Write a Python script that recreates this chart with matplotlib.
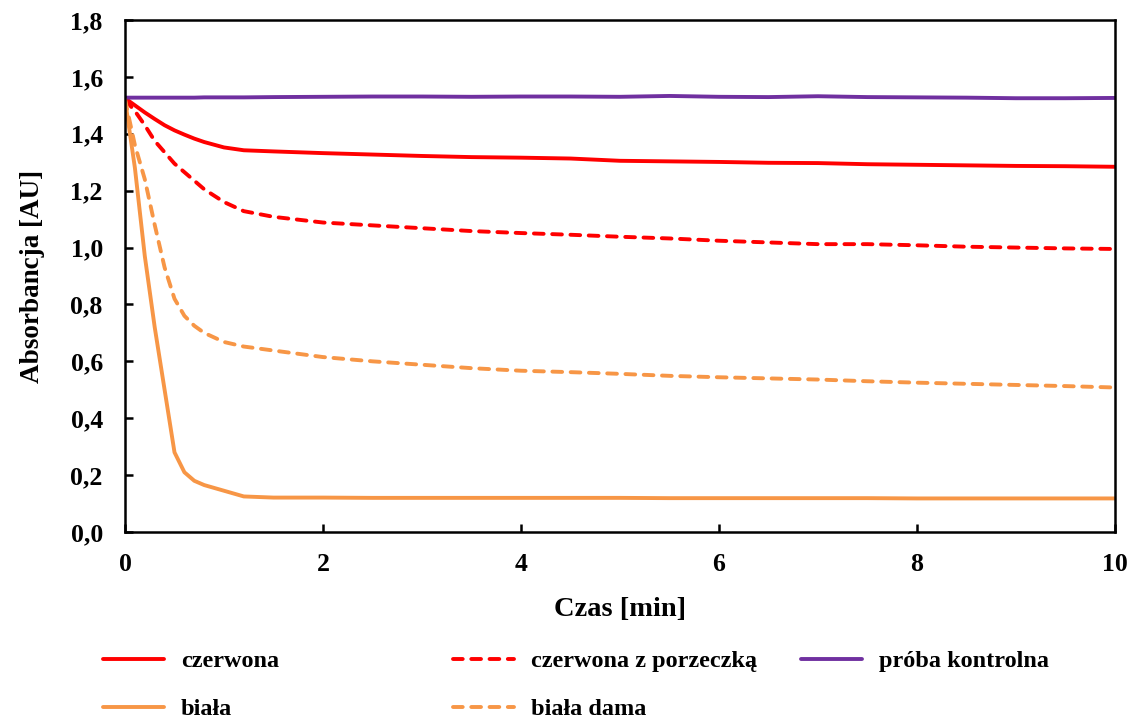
import matplotlib
matplotlib.use("Agg")
import matplotlib.pyplot as plt
from matplotlib.ticker import FuncFormatter

plt.rcParams['font.family'] = ['Liberation Serif', 'DejaVu Serif']
plt.rcParams['font.weight'] = 'bold'

time_min = [0, 0.1, 0.2, 0.3, 0.4, 0.5, 0.6, 0.7, 0.8, 1.0, 1.2, 1.5, 2, 2.5, 3, 3.5, 4,
            4.5, 5, 5.5, 6, 6.5, 7, 7.5, 8, 8.5, 9, 9.5, 10]

czerwona = [1.525, 1.50, 1.475, 1.452, 1.43, 1.412, 1.397, 1.383, 1.371, 1.352, 1.342, 1.338,
            1.332, 1.327, 1.322, 1.318, 1.316, 1.313, 1.305, 1.303, 1.301, 1.298, 1.297, 1.293,
            1.291, 1.289, 1.287, 1.286, 1.284]
czerwona_porzeczka = [1.52, 1.48, 1.43, 1.375, 1.335, 1.295, 1.265, 1.235, 1.205, 1.16, 1.128,
                      1.108, 1.088, 1.078, 1.068, 1.058, 1.051, 1.045, 1.038, 1.032, 1.024, 1.018,
                      1.012, 1.012, 1.008, 1.003, 1.0, 0.997, 0.995]
proba_kontrolna = [1.527, 1.527, 1.527, 1.527, 1.527, 1.527, 1.527, 1.527, 1.528, 1.528, 1.528,
                   1.529, 1.530, 1.531, 1.531, 1.530, 1.531, 1.531, 1.530, 1.533, 1.530, 1.529,
                   1.532, 1.529, 1.528, 1.527, 1.525, 1.525, 1.526]
biala = [1.52, 1.28, 0.97, 0.72, 0.50, 0.28, 0.21, 0.18, 0.165, 0.145, 0.125, 0.121, 0.121,
         0.120, 0.120, 0.120, 0.120, 0.120, 0.120, 0.119, 0.119, 0.119, 0.119, 0.119, 0.118,
         0.118, 0.118, 0.118, 0.118]
biala_dama = [1.52, 1.36, 1.24, 1.08, 0.93, 0.82, 0.76, 0.725, 0.70, 0.668, 0.652, 0.638, 0.615,
              0.600, 0.588, 0.576, 0.567, 0.562, 0.556, 0.549, 0.544, 0.540, 0.536, 0.530, 0.525,
              0.521, 0.517, 0.513, 0.508]

x_ticks = [0, 2, 4, 6, 8, 10]
y_ticks = [0.0, 0.2, 0.4, 0.6, 0.8, 1.0, 1.2, 1.4, 1.6, 1.8]

RED = '#FF0000'
PURPLE = '#7030A0'
ORANGE = '#F79646'

fig = plt.figure(figsize=(11.37, 7.22), dpi=100)
ax = fig.add_axes([125 / 1137, 1 - 532 / 722, (1115 - 125) / 1137, (532 - 20) / 722])

lw = 2.8
dash = (2.5, 2.2)
l_cz, = ax.plot(time_min, czerwona, color=RED, lw=lw, solid_capstyle='round',
                solid_joinstyle='round')
l_czp, = ax.plot(time_min, czerwona_porzeczka, color=RED, lw=lw, linestyle=(0, dash),
                 dash_capstyle='round')
l_pk, = ax.plot(time_min, proba_kontrolna, color=PURPLE, lw=lw, solid_capstyle='round')
l_b, = ax.plot(time_min, biala, color=ORANGE, lw=lw, solid_capstyle='round',
               solid_joinstyle='round')
l_bd, = ax.plot(time_min, biala_dama, color=ORANGE, lw=lw, linestyle=(0, dash),
                dash_capstyle='round')

ax.set_xlim(0, 10)
ax.set_ylim(0, 1.8)
ax.set_xticks(x_ticks)
ax.set_yticks(y_ticks)
ax.xaxis.set_major_formatter(FuncFormatter(lambda v, p: f"{v:.0f}"))
ax.yaxis.set_major_formatter(FuncFormatter(lambda v, p: f"{v:.1f}".replace('.', ',')))
for s in ax.spines.values():
    s.set_linewidth(1.8)
    s.set_color('black')
ax.tick_params(direction='in', length=6, width=1.8, labelsize=18.5, top=False, right=False)
ax.tick_params(axis='y', pad=16)
ax.tick_params(axis='x', pad=15)
for lab in ax.get_xticklabels() + ax.get_yticklabels():
    lab.set_fontweight('bold')

ax.set_xlabel('Czas [min]', fontsize=20.5, fontweight='bold', labelpad=15)
ax.set_ylabel('Absorbancja [AU]', fontsize=19.5, fontweight='bold', labelpad=18)

leg_kw = dict(frameon=False, handlelength=2.5, handletextpad=0.7,
              labelspacing=1.07, borderaxespad=0, borderpad=0,
              prop={'weight': 'bold', 'size': 17.5})
top = 1 - 650 / 722
fig.legend([l_cz, l_b], ['czerwona', 'biała'], loc='upper left',
           bbox_to_anchor=(103 / 1137, top), **leg_kw)
fig.legend([l_czp, l_bd], ['czerwona z porzeczką', 'biała dama'], loc='upper left',
           bbox_to_anchor=(453 / 1137, top), **leg_kw)
fig.legend([l_pk], ['próba kontrolna'], loc='upper left',
           bbox_to_anchor=(801 / 1137, top), **leg_kw)

fig.savefig('out.png', dpi=100)
